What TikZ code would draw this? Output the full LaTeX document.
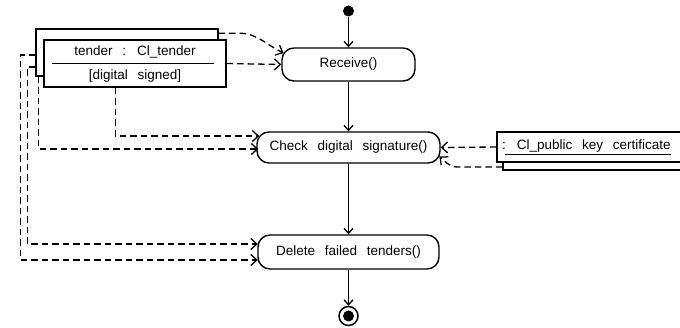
\documentclass[tikz,border=0pt]{standalone}
\usepackage{fontspec}
\setmainfont[WordSpace={2.6}]{Liberation Sans}
\usetikzlibrary{arrows.meta,calc}
\begin{document}
\begin{tikzpicture}[x=1pt,y=-1pt,
  every node/.style={font=\fontsize{13.5}{16}\selectfont, inner sep=0pt},
  action/.style={draw, line width=1.4pt, rounded corners=12pt, fill=white},
  flow/.style={line width=1.3pt, -{Straight Barb[length=5pt,width=9pt]}},
  dep/.style={line width=1.3pt, dash pattern=on 6.5pt off 4pt,
              -{Straight Barb[length=6pt,width=11pt]}},
  objbox/.style={draw, line width=1.4pt, fill=white},
  rule/.style={line width=1.4pt}
]
\useasboundingbox (0,0) rectangle (680,328);
\clip (0,0) rectangle (680,328);

% activity states
\node[circle, fill, minimum size=11pt] (init) at (348.5,11) {};
\node[action, minimum width=133pt, minimum height=33pt] (rcv) at (348.5,64.5) {Receive()};
\node[action, minimum width=183pt, minimum height=31pt] (chk) at (348.5,147.5) {Check digital signature()};
\node[action, minimum width=181pt, minimum height=34pt] (del) at (348.5,252) {Delete failed tenders()};
\node[circle, draw, line width=1.5pt, minimum size=19pt] (fin) at (348.5,316) {};
\node[circle, fill, minimum size=11pt] (fincore) at (fin) {};

% control flow
\draw[flow] (init) -- (rcv.north);
\draw[flow] (rcv.south) -- (chk.north);
\draw[flow] (chk.south) -- (del.north);
\draw[flow] (del.south) -- (fin.north);

% tender object (multiple instances)
\node[objbox, minimum width=182pt, minimum height=47pt] (tb) at (127,52.5) {};
\node[objbox, minimum width=182pt, minimum height=47pt] (tf) at (135,63.5) {};
\node (t1) at (135,52) {tender : Cl\_tender};
\node (t2) at (135,76) {[digital signed]};
\draw[rule] ($(tf.west)+(9,0)$) -- ($(tf.east)+(-13,0)$);

% public key certificate object
\node[objbox, minimum width=187pt, minimum height=30pt] (pb) at (596.5,155) {};
\node[objbox, minimum width=193pt, minimum height=30pt] (pf) at (593.5,147) {};
\node[anchor=west] (pk) at (502,146) {: Cl\_public key certificate};
\draw[rule] ($(pk.base west)+(3,5)$) -- ($(pk.base east)+(0,5)$);

% object flows into the actions
\draw[dep] ($(tb.north east)+(0,5)$) -- ++(22,0)
  .. controls ($(tb.north east)+(38,5)$) and ($(rcv.west)+(-13,-18.5)$) .. ($(rcv.west)+(2.3,-11.5)$);
\draw[dep] (tf.east) -- (rcv.west);
\draw[dep] ($(tf.south west)+(72,0)$) |- ($(chk.west)+(3,-11.5)$);
\draw[dep] ($(tb.south west)+(3,0)$) |- ($(chk.west)+(2,1.5)$);
\draw[dep] ($(tb.west)+(0,14.5)$) -- ++(-8,0) |- ($(del.west)+(0.5,-8)$);
\draw[dep] ($(tb.west)+(0,2.5)$) -- ++(-15,0) |- ($(del.west)+(0.5,8)$);
\draw[dep] (pf.west) -- (chk.east);
\draw[dep] ($(pb.west)+(0,12)$) -- ++(-45,0)
  .. controls ($(pb.west)+(-53,12)$) and ($(chk.east)+(4,13.5)$) .. ($(chk.east)+(-1.3,9)$);
\end{tikzpicture}
\end{document}
